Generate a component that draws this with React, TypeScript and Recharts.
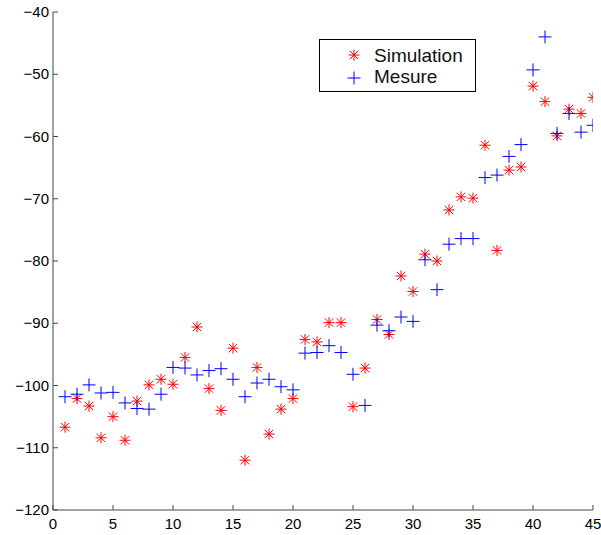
import { ScatterChart, Scatter, XAxis, YAxis } from 'recharts';

const xValues = [1, 2, 3, 4, 5, 6, 7, 8, 9, 10, 11, 12, 13, 14, 15, 16, 17, 18, 19, 20, 21, 22, 23, 24, 25, 26, 27, 28, 29, 30, 31, 32, 33, 34, 35, 36, 37, 38, 39, 40, 41, 42, 43, 44, 45];

const simulation = [
    -106.7, -102.1, -103.3, -108.4, -105.0, -108.8, -102.5, -99.9, -99.0, -99.8,
    -95.5, -90.6, -100.5, -104.0, -94.0, -112.0, -97.1, -107.8, -103.8, -102.1,
    -92.6, -93.0, -89.9, -89.9, -103.4, -97.2, -89.4, -91.8, -82.4, -84.9,
    -78.9, -80.0, -71.8, -69.7, -69.9, -61.4, -78.3, -65.4, -64.9, -51.9,
    -54.4, -59.9, -55.6, -56.3, -53.7,
];

const mesure = [
    -101.8, -101.4, -99.9, -101.2, -101.1, -102.8, -103.7, -103.8, -101.4, -97.1,
    -97.2, -98.3, -97.6, -97.3, -99.0, -101.8, -99.6, -99.0, -100.2, -100.7,
    -94.8, -94.7, -93.6, -94.7, -98.2, -103.2, -90.3, -91.2, -89.0, -89.7,
    -79.8, -84.6, -77.3, -76.4, -76.4, -66.6, -66.2, -63.2, -61.3, -49.3,
    -44.0, -59.5, -56.3, -59.3, -58.2,
];

const xTicks = [0, 5, 10, 15, 20, 25, 30, 35, 40, 45];
const yTicks = [-120, -110, -100, -90, -80, -70, -60, -50, -40];

const simData = xValues.map((x, i) => ({ x, y: simulation[i] }));
const mesData = xValues.map((x, i) => ({ x, y: mesure[i] }));

const FONT = '"Liberation Sans", Arial, Helvetica, sans-serif';
const AXIS = '#444';

const fmt = (v: number) => String(v).replace('-', '\u2212');

const Star = ({ cx, cy }: any) => {
    const r = 5.5;
    const d = 4.2;
    return (
        <g stroke="#ff0000" strokeWidth={1}>
            <line x1={cx - r} y1={cy} x2={cx + r} y2={cy} />
            <line x1={cx} y1={cy - r} x2={cx} y2={cy + r} />
            <line x1={cx - d} y1={cy - d} x2={cx + d} y2={cy + d} />
            <line x1={cx - d} y1={cy + d} x2={cx + d} y2={cy - d} />
        </g>
    );
};

const Plus = ({ cx, cy }: any) => {
    const r = 6.5;
    return (
        <g stroke="#0000ff" strokeWidth={1}>
            <line x1={cx - r} y1={cy} x2={cx + r} y2={cy} />
            <line x1={cx} y1={cy - r} x2={cx} y2={cy + r} />
        </g>
    );
};

const YTick = ({ x, y, payload }: any) => (
    <g>
        <line x1={x + 4} x2={x + 9} y1={y} y2={y} stroke={AXIS} />
        <text x={x} y={y} dy={5} textAnchor="end" fontSize={15} fontFamily={FONT} fill="#000">
            {fmt(payload.value)}
        </text>
    </g>
);

const XTick = ({ x, y, payload }: any) => (
    <g>
        <line x1={x} x2={x} y1={y} y2={y - 5} stroke={AXIS} />
        <text x={x} y={y + 19} textAnchor="middle" fontSize={15} fontFamily={FONT} fill="#000">
            {fmt(payload.value)}
        </text>
    </g>
);

export default function App() {
    return (
        <div style={{ position: 'absolute', left: 0, top: 0, width: 601, height: 535, background: '#fff' }}>
            <ScatterChart width={601} height={535} margin={{ top: 12, right: 8, bottom: 0, left: 0 }}>
                <XAxis
                    type="number"
                    dataKey="x"
                    domain={[0, 45]}
                    ticks={xTicks}
                    height={25}
                    tickSize={0}
                    tickMargin={0}
                    axisLine={{ stroke: AXIS }}
                    tick={<XTick />}
                    interval={0}
                    allowDataOverflow
                />
                <YAxis
                    type="number"
                    dataKey="y"
                    domain={[-120, -40]}
                    ticks={yTicks}
                    width={53}
                    tickSize={0}
                    tickMargin={4}
                    axisLine={{ stroke: AXIS }}
                    tick={<YTick />}
                    interval={0}
                    allowDataOverflow
                />
                <Scatter name="Simulation" data={simData} isAnimationActive={false} shape={(p: any) => <Star cx={p.cx} cy={p.cy} />} />
                <Scatter name="Mesure" data={mesData} isAnimationActive={false} shape={(p: any) => <Plus cx={p.cx} cy={p.cy} />} />
            </ScatterChart>
            <div
                style={{
                    position: 'absolute',
                    left: 319,
                    top: 39,
                    width: 155,
                    height: 51,
                    border: '1px solid #000',
                    background: '#fff',
                    fontFamily: FONT,
                    fontSize: 19,
                    color: '#111',
                }}
            >
                <svg width={155} height={51} style={{ position: 'absolute', left: 0, top: 0 }}>
                    <Star cx={34} cy={15} />
                    <Plus cx={34} cy={38} />
                    <text x={54} y={22} fontSize={19} fontFamily={FONT} fill="#111">Simulation</text>
                    <text x={54} y={43} fontSize={19} fontFamily={FONT} fill="#111">Mesure</text>
                </svg>
            </div>
        </div>
    );
}
